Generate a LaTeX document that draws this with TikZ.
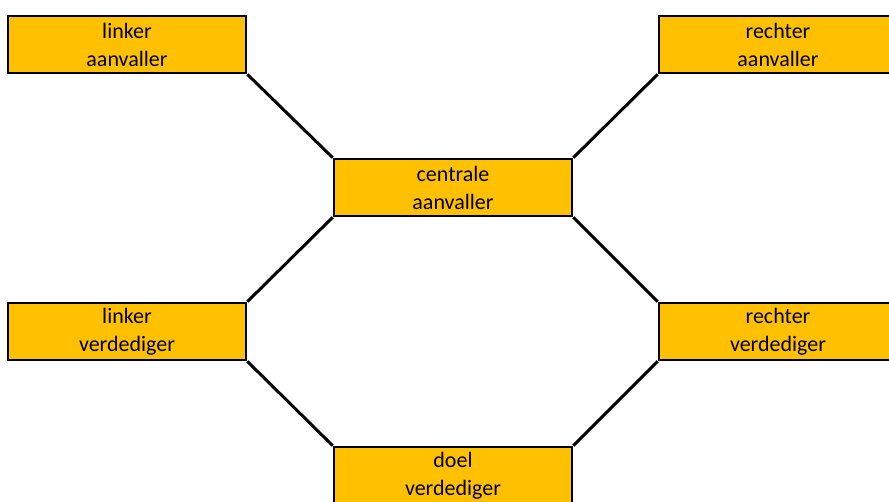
\documentclass[tikz,border=0pt]{standalone}
\usepackage{fontspec}
\setmainfont{Carlito}
\definecolor{boxfill}{HTML}{FFC000}
\begin{document}
\begin{tikzpicture}[x=1pt,y=-1pt,
  playerbox/.style={draw=black, line width=2.6pt, fill=boxfill, minimum width=238pt, minimum height=57pt,
    inner sep=0pt, align=center, font=\fontsize{22}{28}\selectfont},
  link/.style={line width=3pt, draw=black}]
\useasboundingbox (0,0) rectangle (889,501);
\clip (0,0) rectangle (889,501);
\node[playerbox] (la) at (127,44.5) {linker\\aanvaller};
\node[playerbox] (ra) at (778,44.5) {rechter\\aanvaller};
\node[playerbox] (ca) at (453,187.5) {centrale\\aanvaller};
\node[playerbox] (lv) at (127,331.5) {linker\\verdediger};
\node[playerbox] (rv) at (778,331.5) {rechter\\verdediger};
\node[playerbox] (dv) at (453,475.5) {doel\\verdediger};
\draw[link] (la.south east) -- (ca.north west);
\draw[link] (ra.south west) -- (ca.north east);
\draw[link] (ca.south west) -- (lv.north east);
\draw[link] (ca.south east) -- (rv.north west);
\draw[link] (lv.south east) -- (dv.north west);
\draw[link] (rv.south west) -- (dv.north east);
\end{tikzpicture}
\end{document}
